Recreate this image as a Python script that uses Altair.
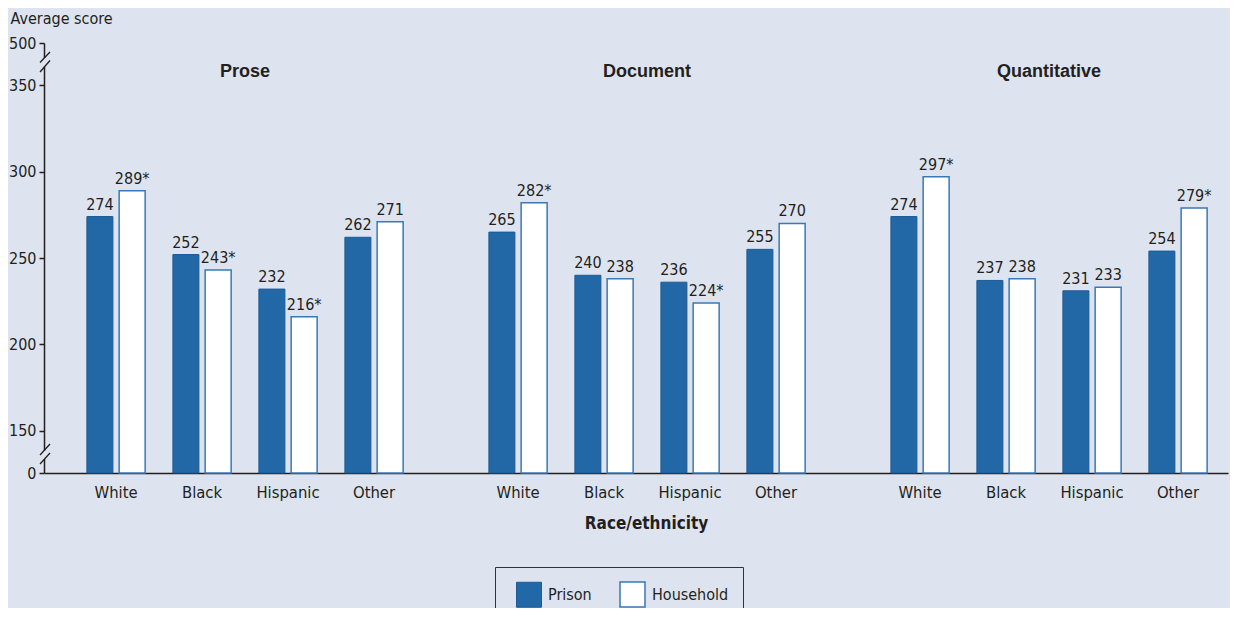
import altair as alt
import pandas as pd

# ---------------- data ----------------
groups = ["Prose", "Document", "Quantitative"]
categories = ["White", "Black", "Hispanic", "Other"]
series = ["Prison", "Household"]

prison_prose = [274, 252, 232, 262]
household_prose = [289, 243, 216, 271]
prison_document = [265, 240, 236, 255]
household_document = [282, 238, 224, 270]
prison_quant = [274, 237, 231, 254]
household_quant = [297, 238, 233, 279]

# asterisk (significant difference) on household values
sig_prose = [True, True, True, False]
sig_document = [True, False, True, False]
sig_quant = [True, False, False, True]

# broken axis: bottom of axis labelled 0, top labelled 500
AXIS_MIN = 125.5
AXIS_MAX = 374.5
tick_values = [AXIS_MIN, 150, 200, 250, 300, 350, AXIS_MAX]

# each category slot is split into 8 sub-slots; bars sit in sub-slots 2 and 5
N_SUB = 8
SUB_OF = {"Prison": 2, "Household": 5}
LABEL_SUB = 3

sub_domain = [f"{c}|{k}" for c in categories for k in range(N_SUB)]

rows = []
for g, pv, hv, sg in [
    ("Prose", prison_prose, household_prose, sig_prose),
    ("Document", prison_document, household_document, sig_document),
    ("Quantitative", prison_quant, household_quant, sig_quant),
]:
    for c, p, h, s in zip(categories, pv, hv, sg):
        rows.append({"group": g, "category": c, "series": "Prison", "value": p,
                     "label": str(p), "sub": f"{c}|{SUB_OF['Prison']}"})
        rows.append({"group": g, "category": c, "series": "Household", "value": h,
                     "label": str(h) + ("*" if s else ""), "sub": f"{c}|{SUB_OF['Household']}"})
df = pd.DataFrame(rows)
cat_df = pd.DataFrame([{"group": g, "category": c, "sub": f"{c}|{LABEL_SUB}"}
                       for g in groups for c in categories])
grp_df = pd.DataFrame({"group": groups})

# ---------------- style ----------------
BG = "#dee4ef"
BLUE = "#2267a6"
BLUE_EDGE = "#1c5b98"
HH_EDGE = "#3a78b5"
INK = "#231f20"
FONT = "Liberation Sans Narrow, DejaVu Sans Condensed, sans-serif"
W = 1184
H = 430

x_scale = alt.Scale(domain=groups, paddingInner=0.1443, paddingOuter=0.0448, align=0.806)
x_axis = alt.Axis(labels=False, ticks=False, domain=True, domainColor=INK, domainWidth=1.5,
                  title="Race/ethnicity", titleFont=FONT, titleFontSize=17, titleFontWeight="bold",
                  titleColor=INK, titleX=602, titleY=50, titleAlign="center", titleBaseline="middle")
y_scale = alt.Scale(domain=[AXIS_MIN, AXIS_MAX], nice=False, zero=False, clamp=True)
y_axis = alt.Axis(values=tick_values, grid=False,
                  labelExpr="datum.value < 130 ? '0' : (datum.value > 370 ? '500' : datum.label)",
                  labelFont=FONT, labelFontSize=16, labelColor=INK, labelPadding=3,
                  tickSize=5, tickWidth=1.5, tickColor=INK,
                  domainColor=INK, domainWidth=1.5,
                  title="Average score", titleAngle=0, titleAlign="left", titleBaseline="middle",
                  titleX=-34, titleY=-25, titleFont=FONT, titleFontSize=16,
                  titleFontWeight="normal", titleColor=INK)


def X():
    return alt.X("group:N", scale=x_scale, axis=x_axis)


def XO():
    return alt.XOffset("sub:N", sort=sub_domain,
                       scale=alt.Scale(domain=sub_domain, paddingInner=0, paddingOuter=0))


def Y():
    return alt.Y("value:Q", scale=y_scale, axis=y_axis)


fill_enc = alt.Fill("series:N", scale=alt.Scale(domain=series, range=[BLUE, "white"]),
                    legend=alt.Legend(title=None))
stroke_enc = alt.Stroke("series:N", scale=alt.Scale(domain=series, range=[BLUE_EDGE, HH_EDGE]),
                        legend=None)
sw_enc = alt.StrokeWidth("series:N", scale=alt.Scale(domain=series, range=[1, 1.5]), legend=None)

base = alt.Chart(df)

bars = base.mark_bar(width=26).encode(
    x=X(), xOffset=XO(), y=Y(), y2=alt.datum(AXIS_MIN),
    fill=fill_enc, stroke=stroke_enc, strokeWidth=sw_enc)

labels = base.mark_text(
    dy=-4, baseline="bottom", font=FONT, fontSize=16, color=INK
).encode(x=X(), xOffset=XO(), y=Y(), text="label:N")

cat_labels = alt.Chart(cat_df).mark_text(
    baseline="middle", font=FONT, fontSize=16.5, color=INK, dx=86 / N_SUB / 2
).encode(x=X(), xOffset=XO(), y=alt.value(H + 20), text="category:N")

grp_titles = alt.Chart(grp_df).mark_text(
    baseline="middle", font="Liberation Sans, Arial, sans-serif", fontSize=18,
    fontWeight="bold", color=INK
).encode(x=X(), y=alt.value(29), text="group:N")

# axis-break decorations
one = pd.DataFrame({"k": [0]})
gap_top = alt.Chart(one).mark_rect(color=BG).encode(
    x=alt.value(-2), x2=alt.value(2), y=alt.value(15), y2=alt.value(23.5))
gap_bot = alt.Chart(one).mark_rect(color=BG).encode(
    x=alt.value(-2), x2=alt.value(2), y=alt.value(407.5), y2=alt.value(416))
slashes = [
    (-4, 19.5, 6, 9),
    (-4, 29, 6, 17.5),
    (-4, 412, 6, 401),
    (-4, 421, 6, 410),
]
slash_layers = [
    alt.Chart(one).mark_rule(color=INK, strokeWidth=1.3).encode(
        x=alt.value(a), y=alt.value(b), x2=alt.value(c), y2=alt.value(d))
    for a, b, c, d in slashes
]

chart = alt.layer(
    bars, labels, cat_labels, grp_titles, gap_top, gap_bot, *slash_layers
).properties(
    width=W, height=H,
    background=BG,
    autosize=alt.AutoSizeParams(type="none"),
    padding={"left": 44 - 8, "top": 35, "right": 2, "bottom": 135},
).configure_view(stroke=None).configure_legend(
    orient="none", legendX=451, legendY=524, direction="horizontal",
    strokeColor="#333333", fillColor=BG, padding=14, symbolOffset=7,
    symbolType="square", symbolSize=625, symbolStrokeWidth=1.5, symbolStrokeColor=BLUE,
    labelFont=FONT, labelFontSize=16, labelColor=INK, labelOffset=6, columnPadding=20,
)

chart.save("out.html", embed_options={"renderer": "svg", "actions": False})
